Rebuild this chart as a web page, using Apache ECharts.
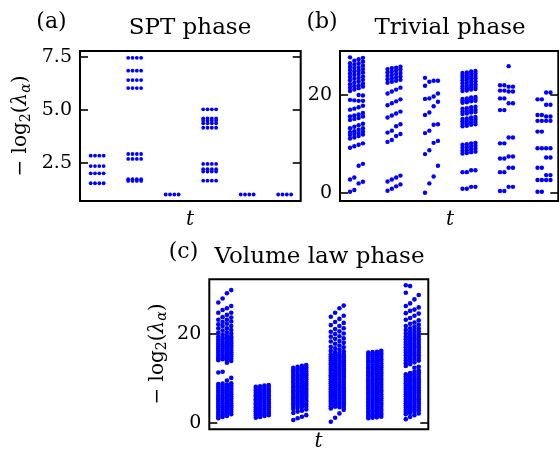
<!DOCTYPE html>
<html><head><meta charset="utf-8">
<script src="https://cdn.jsdelivr.net/npm/echarts@6/dist/echarts.min.js"></script>
<style>html,body{margin:0;padding:0;background:#fff}#c{width:559px;height:454px}</style>
</head><body><div id="c"></div>
<script>
// ---------------- data ----------------
const timeSteps = [1, 2, 3, 4, 5, 6];
const yTicksSPT = [2.5, 5.0, 7.5];
const yTicksTrivial = [0, 20];
const yTicksVolume = [0, 20];

// (a) SPT phase: each level appears as a row of 4 dots at every time step
const spt1 = [2.83, 2.34, 2.0, 1.53];
const spt2 = [7.45, 6.84, 6.40, 6.02, 2.91, 2.68, 1.72, 1.64];
const spt3 = [1.0];
const spt4 = [5.02, 4.59, 4.48, 4.36, 4.15, 2.44, 2.19, 2.08, 1.65];
const spt5 = [1.0];
const spt6 = [1.0];

// (b) Trivial phase: 4 columns per time step
const triv1 = [
  [27.7, 26.5, 25.8, 25.1, 24.4, 23.7, 23.0, 22.2, 21.5, 20.8, 19.0, 17.0, 15.6, 14.9, 13.2, 12.4, 11.8, 11.1, 9.2, 2.7, 0.2],
  [27.0, 26.2, 25.5, 24.8, 24.1, 23.3, 22.5, 21.8, 21.1, 18.9, 17.2, 15.8, 15.1, 13.5, 12.6, 12.0, 11.3, 9.5, 3.1, 0.55],
  [27.3, 26.5, 25.7, 25.0, 24.3, 23.5, 22.8, 22.0, 21.4, 20.0, 18.8, 17.5, 16.0, 15.3, 13.8, 12.9, 12.2, 11.6, 9.8, 5.5, 1.9],
  [27.6, 26.8, 26.0, 25.3, 24.6, 23.8, 23.1, 22.3, 21.7, 19.9, 18.8, 17.8, 16.3, 15.6, 14.1, 13.2, 12.5, 11.9, 10.1, 5.9, 2.25]
];
const triv2 = [
  [25.3, 24.6, 23.9, 23.2, 22.5, 20.3, 17.9, 15.4, 12.3, 10.4, 2.3, 0.4],
  [25.5, 24.8, 24.1, 23.4, 22.7, 20.7, 18.3, 15.8, 12.7, 10.8, 2.7, 0.8],
  [25.6, 25.0, 24.3, 23.6, 22.9, 21.1, 18.7, 16.2, 13.6, 11.6, 3.1, 1.3],
  [25.8, 25.2, 24.5, 23.8, 23.1, 21.5, 19.1, 16.6, 14.0, 12.0, 3.5, 1.7]
];
const triv3 = [
  [23.5, 21.9, 19.2, 15.9, 12.2, 7.9, 0.0],
  [22.7, 19.3, 16.4, 12.7, 8.7, 1.9],
  [22.9, 19.7, 17.7, 13.9, 10.2, 3.3],
  [22.9, 20.3, 18.6, 14.0, 10.6, 5.5]
];
const triv4 = [
  [24.5, 24.0, 23.5, 23.0, 22.4, 21.8, 21.3, 20.8, 19.2, 18.8, 18.4, 17.2, 16.6, 16.1, 15.1, 14.6, 14.1, 13.6, 9.8, 9.2, 8.6, 8.0, 4.2, 0.8],
  [24.6, 24.1, 23.6, 23.1, 22.5, 21.9, 21.4, 20.9, 19.3, 18.9, 18.5, 17.3, 16.7, 16.2, 15.2, 14.7, 14.2, 13.7, 9.9, 9.3, 8.7, 8.1, 4.2, 0.8],
  [24.8, 24.3, 23.8, 23.3, 22.7, 22.1, 21.6, 21.1, 19.5, 19.1, 18.7, 17.5, 16.9, 16.4, 15.4, 14.9, 14.4, 13.9, 10.1, 9.5, 8.9, 8.3, 4.6, 1.2],
  [24.9, 24.4, 23.9, 23.4, 22.8, 22.2, 21.7, 21.2, 19.6, 19.2, 18.8, 17.6, 17.0, 16.5, 15.5, 15.0, 14.5, 14.0, 10.2, 9.6, 9.0, 8.4, 4.6, 1.2]
];
const triv5 = [
  [22.0, 20.9, 19.3, 16.9, 10.1, 7.0, 4.2, 0.35],
  [22.0, 20.9, 19.3, 16.9, 10.1, 7.0, 4.2, 0.35],
  [25.9, 21.7, 20.7, 18.3, 11.3, 7.4, 5.1, 1.2],
  [21.7, 20.7, 18.3, 11.3, 7.4, 5.1, 1.2]
];
const triv6 = [
  [19.1, 15.9, 14.7, 12.5, 9.1, 5.1, 2.6, 0.2],
  [19.1, 15.9, 14.7, 12.5, 9.1, 5.1, 2.6, 0.2],
  [20.5, 18.0, 15.6, 14.7, 9.1, 7.2, 3.6, 2.6],
  [20.5, 18.0, 15.6, 14.7, 9.1, 7.2, 3.6, 2.6]
];

// (c) Volume law phase: 4 columns per time step
const vol1 = [
  [27.1, 24.8, 23.2, 22.2, 21.3, 20.3, 19.4, 18.8, 18.3, 17.8, 17.3, 16.8, 16.3, 15.8, 15.3, 14.8, 14.4, 14.1,
   11.3, 8.7, 8.2, 7.7, 7.2, 6.7, 6.2, 5.7, 5.3, 4.8, 4.3, 3.8, 3.4, 2.9, 2.4, 1.9, 1.4, 1.0],
  [28.0, 25.4, 23.8, 22.7, 21.8, 20.8, 19.9, 19.2, 18.7, 18.2, 17.7, 17.2, 16.7, 16.2, 15.7, 15.2, 14.7, 14.3,
   11.5, 8.8, 8.3, 7.8, 7.3, 6.8, 6.3, 5.8, 5.4, 4.9, 4.4, 3.9, 3.5, 3.0, 2.5, 2.0, 1.6, 1.3],
  [29.2, 25.8, 24.3, 23.2, 22.3, 21.3, 20.4, 19.6, 19.0, 18.5, 18.0, 17.5, 17.0, 16.5, 16.0, 15.5, 15.0, 14.5, 14.0, 13.5,
   9.5, 8.6, 8.1, 7.6, 7.1, 6.6, 6.1, 5.6, 5.1, 4.6, 4.2, 3.7, 3.2, 2.7, 2.2, 1.8, 1.5],
  [29.9, 26.3, 24.8, 23.7, 22.8, 21.8, 20.9, 20.1, 19.4, 18.9, 18.4, 17.9, 17.4, 16.9, 16.4, 15.9, 15.4, 14.9, 14.4, 13.9,
   10.1, 8.9, 8.4, 7.9, 7.4, 6.9, 6.4, 5.9, 5.4, 4.9, 4.4, 3.9, 3.4, 2.9, 2.4, 1.9]
];
const vol2 = [
  [8.1, 7.6, 7.2, 6.7, 6.2, 5.8, 5.3, 4.9, 4.4, 4.0, 3.5, 3.0, 2.6, 2.1, 1.6, 1.1],
  [8.2, 7.8, 7.3, 6.8, 6.4, 5.9, 5.5, 5.0, 4.5, 4.1, 3.6, 3.2, 2.7, 2.2, 1.8, 1.3],
  [8.4, 7.9, 7.5, 7.0, 6.5, 6.1, 5.6, 5.2, 4.7, 4.2, 3.8, 3.3, 2.9, 2.4, 1.9, 1.5],
  [8.5, 8.1, 7.6, 7.1, 6.7, 6.2, 5.8, 5.3, 4.8, 4.4, 3.9, 3.5, 3.0, 2.5, 2.1, 1.7]
];
const vol3 = [
  [12.4, 11.9, 11.5, 11.0, 10.5, 10.1, 9.6, 9.2, 8.7, 8.2, 7.8, 7.3, 6.9, 6.4, 5.9, 5.5, 5.0, 4.5, 4.1, 3.6, 3.1, 2.2, 0.6],
  [12.6, 12.1, 11.7, 11.2, 10.7, 10.3, 9.8, 9.4, 8.9, 8.4, 8.0, 7.5, 7.1, 6.6, 6.1, 5.7, 5.2, 4.7, 4.3, 3.8, 3.3, 2.5, 1.0],
  [12.8, 12.3, 11.9, 11.4, 10.9, 10.5, 10.0, 9.6, 9.1, 8.6, 8.2, 7.7, 7.3, 6.8, 6.3, 5.9, 5.4, 4.9, 4.5, 4.0, 3.5, 2.7, 1.35],
  [13.0, 12.5, 12.1, 11.6, 11.1, 10.7, 10.2, 9.8, 9.3, 8.8, 8.4, 7.9, 7.5, 7.0, 6.5, 6.1, 5.6, 5.1, 4.7, 4.2, 3.7, 3.0, 1.7]
];
const vol4 = [
  [23.9, 22.0, 20.5, 19.4, 18.3, 17.1, 16.2, 15.4, 14.9, 14.5, 14.0, 13.5, 13.1, 12.6, 12.1, 11.7, 11.2, 10.7, 10.3, 9.8, 9.3, 8.9, 8.4, 7.9, 7.5, 7.0, 6.5, 6.1, 5.6, 5.1, 4.7, 4.2, 3.7, 3.2, 0.2],
  [24.8, 22.7, 21.1, 20.0, 18.9, 17.8, 16.8, 15.9, 15.3, 14.8, 14.4, 13.9, 13.4, 13.0, 12.5, 12.0, 11.6, 11.1, 10.6, 10.2, 9.7, 9.2, 8.8, 8.3, 7.8, 7.4, 6.9, 6.4, 6.0, 5.5, 5.0, 4.6, 4.1, 3.6, 1.1],
  [25.8, 23.4, 21.8, 20.6, 19.5, 18.4, 17.4, 16.5, 15.7, 15.2, 14.7, 14.2, 13.8, 13.3, 12.8, 12.4, 11.9, 11.4, 11.0, 10.5, 10.0, 9.6, 9.1, 8.6, 8.2, 7.7, 7.2, 6.8, 6.3, 5.8, 5.4, 4.9, 4.4, 4.0, 3.5, 2.1],
  [26.4, 24.1, 22.5, 21.3, 20.1, 19.0, 18.0, 17.0, 16.1, 15.5, 15.0, 14.6, 14.1, 13.6, 13.2, 12.7, 12.2, 11.8, 11.3, 10.8, 10.4, 9.9, 9.4, 9.0, 8.5, 8.0, 7.6, 7.1, 6.6, 6.2, 5.7, 5.2, 4.8, 4.3, 3.8, 3.3, 2.9]
];
const vol5 = [
  [15.8, 15.3, 14.9, 14.4, 13.9, 13.5, 13.0, 12.5, 12.1, 11.6, 11.1, 10.7, 10.2, 9.7, 9.3, 8.8, 8.3, 7.9, 7.4, 6.9, 6.5, 6.0, 5.5, 5.1, 4.6, 4.1, 3.7, 3.2, 2.7, 2.3, 1.8, 1.4, 1.0],
  [15.9, 15.4, 15.0, 14.5, 14.0, 13.6, 13.1, 12.6, 12.2, 11.7, 11.2, 10.8, 10.3, 9.8, 9.4, 8.9, 8.4, 8.0, 7.5, 7.0, 6.6, 6.1, 5.6, 5.2, 4.7, 4.2, 3.8, 3.3, 2.8, 2.4, 1.9, 1.5, 1.1],
  [16.0, 15.6, 15.1, 14.6, 14.2, 13.7, 13.2, 12.8, 12.3, 11.8, 11.4, 10.9, 10.4, 10.0, 9.5, 9.0, 8.6, 8.1, 7.6, 7.2, 6.7, 6.2, 5.8, 5.3, 4.8, 4.4, 3.9, 3.4, 3.0, 2.5, 2.0, 1.6, 1.2],
  [16.2, 15.7, 15.3, 14.8, 14.3, 13.9, 13.4, 12.9, 12.5, 12.0, 11.5, 11.1, 10.6, 10.1, 9.7, 9.2, 8.7, 8.3, 7.8, 7.3, 6.9, 6.4, 5.9, 5.5, 5.0, 4.5, 4.1, 3.6, 3.1, 2.7, 2.2, 1.8, 1.35]
];
const vol6 = [
  [31.0, 29.3, 26.3, 24.7, 23.2, 21.8, 20.9, 20.1, 19.4, 18.8, 18.2, 17.6, 17.0, 16.4, 15.8, 15.2, 14.6, 14.0, 13.4, 12.8,
   10.9, 10.4, 9.9, 9.4, 8.9, 8.4, 7.9, 7.4, 6.9, 6.4, 5.9, 5.4, 4.9, 4.4, 3.9, 3.4, 2.9, 2.4, 1.9, 0.8],
  [30.8, 26.9, 25.2, 23.6, 22.3, 21.3, 20.5, 19.8, 19.2, 18.6, 18.0, 17.4, 16.8, 16.2, 15.6, 15.0, 14.4, 13.8, 13.2,
   11.2, 10.7, 10.2, 9.7, 9.2, 8.7, 8.2, 7.7, 7.2, 6.7, 6.2, 5.7, 5.2, 4.7, 4.2, 3.7, 3.2, 2.7, 2.2, 1.3],
  [27.8, 25.5, 24.1, 22.6, 21.7, 20.9, 20.2, 19.6, 19.0, 18.4, 17.8, 17.2, 16.6, 16.0, 15.4, 14.8, 14.2, 13.6, 12.4,
   11.5, 11.0, 10.5, 10.0, 9.5, 9.0, 8.5, 8.0, 7.5, 7.0, 6.5, 6.0, 5.5, 5.0, 4.5, 4.0, 3.5, 3.0, 2.5, 1.7],
  [28.8, 26.0, 24.6, 23.1, 22.1, 21.3, 20.6, 20.0, 19.4, 18.8, 18.2, 17.6, 17.0, 16.4, 15.8, 15.2, 14.6, 14.0, 12.6,
   11.8, 11.3, 10.8, 10.3, 9.8, 9.3, 8.8, 8.3, 7.8, 7.3, 6.8, 6.3, 5.8, 5.3, 4.8, 4.3, 3.8, 3.3, 2.8, 2.1]
];

// ---------------- layout / style ----------------
const COL_STEP = 0.115;   // horizontal spacing of the 4 columns inside one time step
const N_COLS = 4;
const BLUE = '#0000ff';
const SERIF = '"DejaVu Serif", serif';

function buildPoints(groups) {
  const pts = [];
  groups.forEach((cols, gi) => {
    cols.forEach((col, k) => {
      col.forEach(v => pts.push([timeSteps[gi] + k * COL_STEP, v]));
    });
  });
  return pts;
}
const sptGroups = [spt1, spt2, spt3, spt4, spt5, spt6].map(lv => Array.from({length: N_COLS}, () => lv));
const trivGroups = [triv1, triv2, triv3, triv4, triv5, triv6];
const volGroups = [vol1, vol2, vol3, vol4, vol5, vol6];

const panels = [
  {grid: {left: 80, top: 51, width: 220.7, height: 150}, x: [0.715, 6.6], y: [0.693, 7.77], ticks: yTicksSPT, fmt: v => v.toFixed(1), pts: buildPoints(sptGroups), size: 3.8},
  {grid: {left: 340, top: 51, width: 218.3, height: 150}, x: [0.733, 6.554], y: [-1.70, 29.0], ticks: yTicksTrivial, fmt: v => String(v), pts: buildPoints(trivGroups), size: 4.4},
  {grid: {left: 209.3, top: 279.3, width: 219, height: 150}, x: [0.76, 6.6], y: [-1.49, 32.33], ticks: yTicksVolume, fmt: v => String(v), pts: buildPoints(volGroups), size: 4.6}
];

const grids = [], xAxes = [], yAxes = [], series = [];
panels.forEach((p, i) => {
  grids.push(Object.assign({show: true, borderColor: '#000', borderWidth: 2, backgroundColor: 'transparent', containLabel: false, outerBoundsMode: 'none'}, p.grid));
  xAxes.push({gridIndex: i, type: 'value', min: p.x[0], max: p.x[1],
    axisLine: {show: false}, axisTick: {show: false}, axisLabel: {show: false}, splitLine: {show: false}});
  ['left', 'right'].forEach(pos => {
    yAxes.push({gridIndex: i, type: 'value', position: pos, min: p.y[0], max: p.y[1],
      axisLine: {show: false}, splitLine: {show: false},
      axisTick: {show: true, inside: true, length: 8, customValues: p.ticks, lineStyle: {color: '#000', width: 1.6}},
      axisLabel: {show: pos === 'left', customValues: p.ticks, formatter: p.fmt, margin: 8,
        fontFamily: SERIF, fontSize: 19, color: '#000'}});
  });
  series.push({type: 'scatter', xAxisIndex: i, yAxisIndex: 2 * i, data: p.pts,
    symbol: 'circle', symbolSize: p.size, itemStyle: {color: BLUE, opacity: 1}, silent: true});
});

function txt(x, y, text, size, italic) {
  return {type: 'text', x: x, y: y, silent: true,
    style: {text: text, fontFamily: SERIF, fontSize: size, fontStyle: italic ? 'italic' : 'normal', fill: '#000', align: 'center', verticalAlign: 'middle'}};
}
const ylabelRich = {
  n: {fontFamily: SERIF, fontSize: 20, lineHeight: 24, verticalAlign: 'middle'},
  i: {fontFamily: SERIF, fontSize: 20, fontStyle: 'italic', lineHeight: 24, verticalAlign: 'middle'},
  s: {fontFamily: SERIF, fontSize: 14, lineHeight: 12, verticalAlign: 'bottom'},
  si: {fontFamily: SERIF, fontSize: 14, fontStyle: 'italic', lineHeight: 12, verticalAlign: 'bottom'}
};
function ylabel(x, y) {
  return {type: 'text', x: x, y: y, rotation: Math.PI / 2, silent: true,
    style: {text: '{n|− log}{s|2}{n|(}{i|λ}{si|α}{n|)}', rich: ylabelRich, align: 'center', verticalAlign: 'middle', fill: '#000'}};
}

const graphics = [
  txt(51.5, 22, '(a)', 22), txt(190, 28, 'SPT phase', 23),
  txt(322, 22, '(b)', 22), txt(450, 28, 'Trivial phase', 23),
  txt(183.5, 252, '(c)', 22), txt(319.5, 257, 'Volume law phase', 23),
  txt(190, 220, 't', 20, true),
  txt(450, 220, 't', 20, true),
  txt(318.5, 442, 't', 20, true),
  ylabel(21, 126), ylabel(157.5, 354)
];

const chart = echarts.init(document.getElementById('c'), null, {renderer: 'canvas'});
chart.setOption({
  animation: false,
  backgroundColor: '#fff',
  grid: grids, xAxis: xAxes, yAxis: yAxes, series: series,
  graphic: graphics
});
</script></body></html>
